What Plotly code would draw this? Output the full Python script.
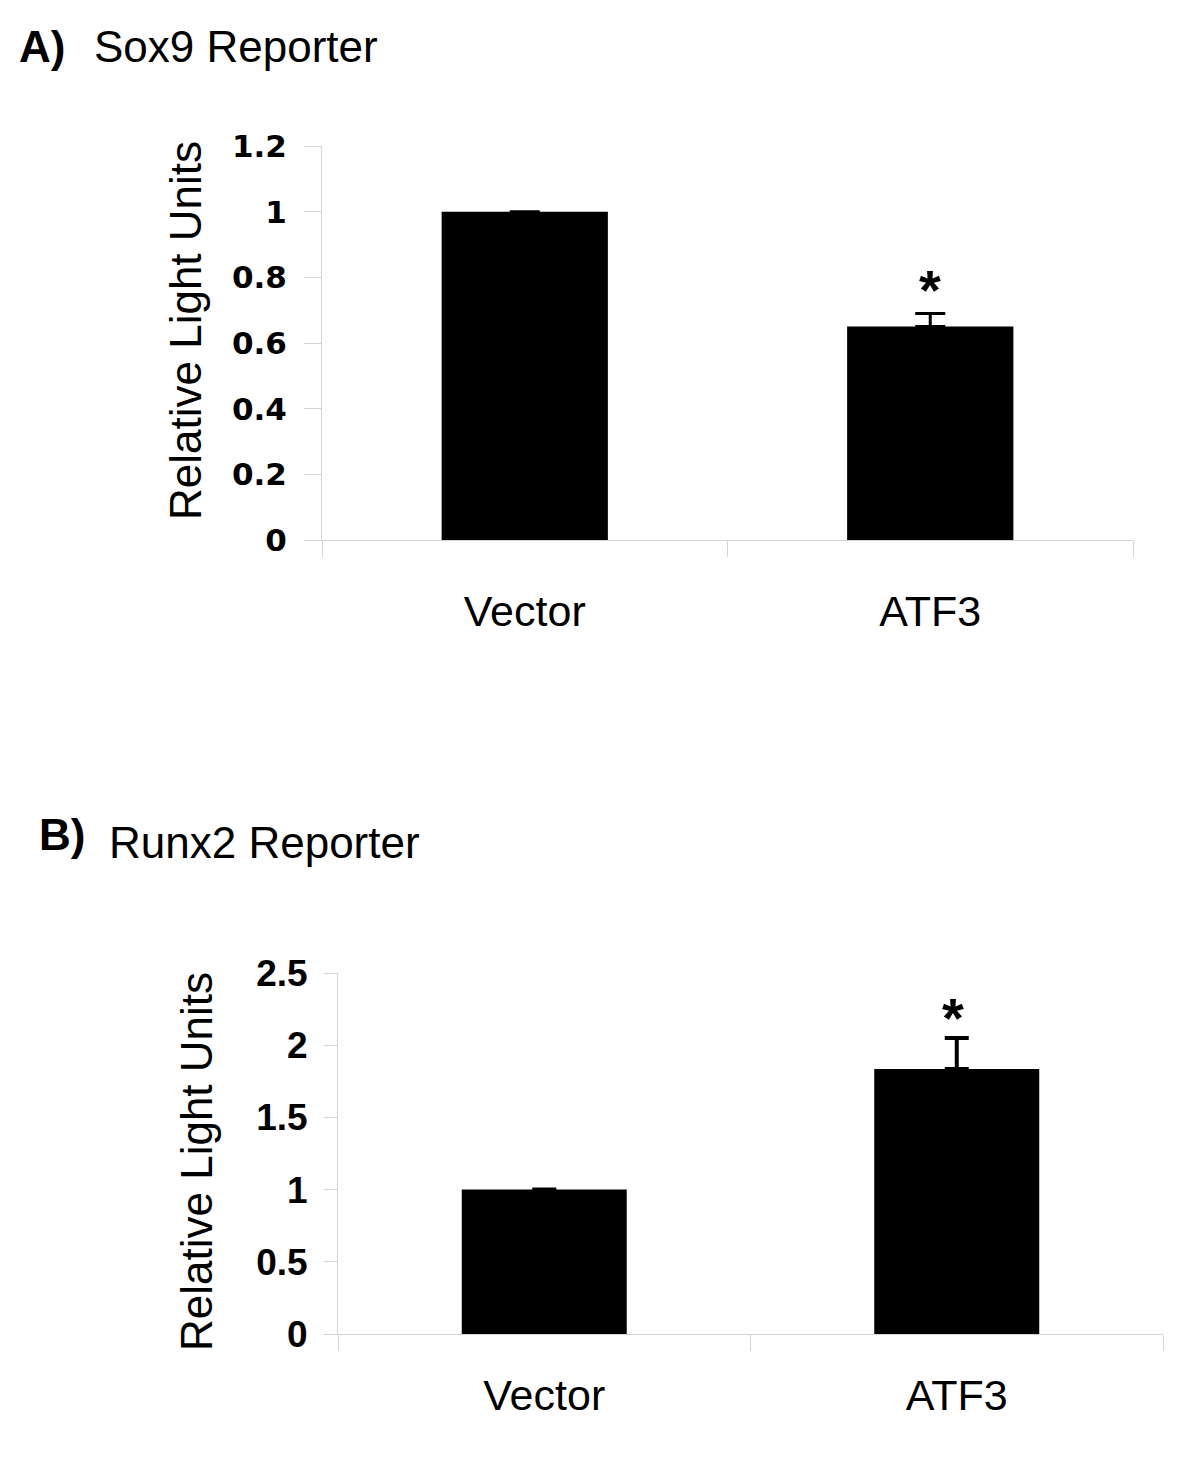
import plotly.graph_objects as go

# Panel A - Sox9 reporter
categories = ["Vector", "ATF3"]
sox9_values = [1.0, 0.65]
sox9_errors = [0.0, 0.04]
sox9_ticks = [0, 0.2, 0.4, 0.6, 0.8, 1, 1.2]
sox9_ticklabels = ["0", "0.2", "0.4", "0.6", "0.8", "1", "1.2"]

# Panel B - Runx2 reporter
runx2_values = [1.0, 1.835]
runx2_errors = [0.0, 0.215]
runx2_ticks = [0, 0.5, 1, 1.5, 2, 2.5]
runx2_ticklabels = ["0", "0.5", "1", "1.5", "2", "2.5"]

y_title = "Relative Light Units"

# page has an 8px body margin, so size the figure to fit inside the window
PAD = 8
W, H = 1200 - 2 * PAD, 1459 - 2 * PAD
AXIS_GRAY = "#d4d4d4"
SANS = "Liberation Sans, Arial, sans-serif"
WIDE = "DejaVu Sans, Verdana, sans-serif"


def px_x(p):
    return (p - PAD) / W


def px_y(p):
    return 1 - (p - PAD) / H


fig = go.Figure()

fig.add_trace(
    go.Bar(
        x=categories,
        y=sox9_values,
        marker=dict(color="black", line=dict(width=0)),
        width=0.41,
        error_y=dict(
            type="data",
            symmetric=False,
            array=sox9_errors,
            arrayminus=[0, 0],
            color="black",
            thickness=3,
            width=15,
        ),
        xaxis="x",
        yaxis="y",
    )
)
fig.add_trace(
    go.Bar(
        x=categories,
        y=runx2_values,
        marker=dict(color="black", line=dict(width=0)),
        width=0.40,
        error_y=dict(
            type="data",
            symmetric=False,
            array=runx2_errors,
            arrayminus=[0, 0],
            color="black",
            thickness=4,
            width=12,
        ),
        xaxis="x2",
        yaxis="y2",
    )
)

xaxis_common = dict(
    type="category",
    showline=True,
    linecolor=AXIS_GRAY,
    linewidth=1,
    ticks="outside",
    tickson="boundaries",
    ticklen=16,
    tickcolor=AXIS_GRAY,
    showgrid=False,
    zeroline=False,
    automargin=False,
    tickfont=dict(family=SANS, size=43, color="black"),
)

yaxis_common = dict(
    showline=True,
    linecolor=AXIS_GRAY,
    linewidth=1,
    ticks="outside",
    tickcolor=AXIS_GRAY,
    showgrid=False,
    zeroline=False,
    automargin=False,
)

fig.update_layout(
    width=W,
    height=H,
    margin=dict(l=0, r=0, t=0, b=0),
    paper_bgcolor="white",
    plot_bgcolor="white",
    showlegend=False,
    xaxis=dict(
        xaxis_common,
        domain=[px_x(322), px_x(1133)],
        anchor="y",
        ticklabelstandoff=33,
    ),
    yaxis=dict(
        yaxis_common,
        domain=[px_y(540), px_y(146)],
        anchor="x",
        range=[0, 1.2],
        ticklen=17,
        tickvals=sox9_ticks,
        ticktext=sox9_ticklabels,
        ticklabelstandoff=11,
        tickfont=dict(family=WIDE, size=31, color="black", weight="bold"),
    ),
    xaxis2=dict(
        xaxis_common,
        domain=[px_x(338), px_x(1163)],
        anchor="y2",
        ticklabelstandoff=23,
    ),
    yaxis2=dict(
        yaxis_common,
        domain=[px_y(1334), px_y(973)],
        anchor="x2",
        range=[0, 2.5],
        ticklen=13,
        tickvals=runx2_ticks,
        ticktext=runx2_ticklabels,
        ticklabelstandoff=9,
        tickfont=dict(family=SANS, size=37, color="black", weight="bold"),
    ),
)

# Y axis titles (placed as rotated text to sit where the original has them)
for tx, ty in [(185, 331), (196, 1162)]:
    fig.add_annotation(
        x=px_x(tx), y=px_y(ty), xref="paper", yref="paper",
        text=y_title, textangle=-90, showarrow=False,
        xanchor="center", yanchor="middle",
        font=dict(family=SANS, size=44, color="black"),
    )

# Significance asterisks above the ATF3 error bars
fig.add_annotation(
    x="ATF3", y=sox9_values[1] + sox9_errors[1], xref="x", yref="y",
    text="<b>*</b>", showarrow=False, yanchor="bottom", yshift=-10,
    font=dict(family=SANS, size=56, color="black"),
)
fig.add_annotation(
    x="ATF3", y=runx2_values[1] + runx2_errors[1], xref="x2", yref="y2",
    text="<b>*</b>", showarrow=False, yanchor="bottom", yshift=-13,
    xshift=-4,
    font=dict(family=SANS, size=56, color="black"),
)

# Panel headings
headings = [
    ("<b>A)</b>", 17, 46),
    ("Sox9 Reporter", 92, 46),
    ("<b>B)</b>", 37, 834),
    ("Runx2 Reporter", 107, 842),
]
for text, hx, hy in headings:
    fig.add_annotation(
        x=px_x(hx), y=px_y(hy), xref="paper", yref="paper",
        text=text, showarrow=False, xanchor="left", yanchor="middle",
        font=dict(family=SANS, size=44, color="black"),
    )

fig.write_html("out.html")
